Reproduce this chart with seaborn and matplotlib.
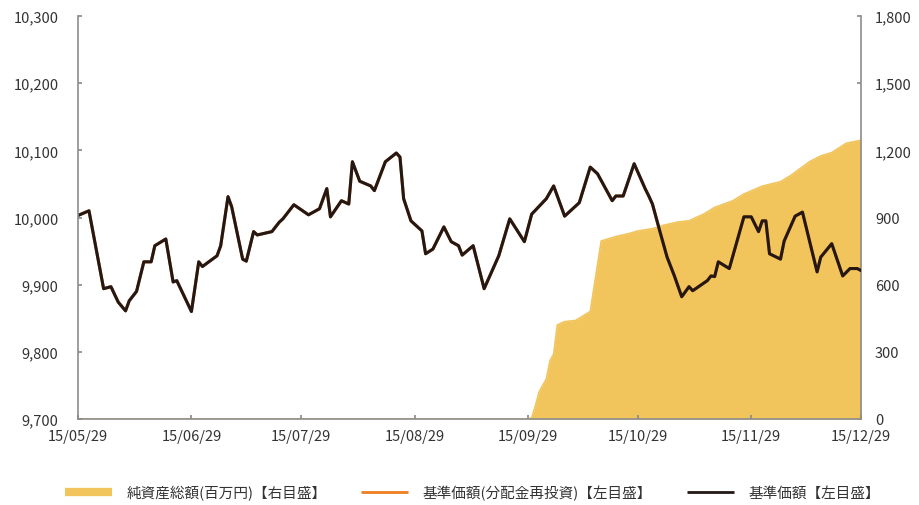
import matplotlib
matplotlib.use("Agg")
import matplotlib.pyplot as plt
from matplotlib.lines import Line2D
import seaborn as sns
import pandas as pd

# ---------------- data ----------------
nav_dates = ["2015-05-29","2015-06-01","2015-06-05","2015-06-07","2015-06-09","2015-06-11","2015-06-12",
             "2015-06-14","2015-06-16","2015-06-18","2015-06-19","2015-06-22","2015-06-24","2015-06-25",
             "2015-06-29","2015-07-01","2015-07-02","2015-07-06","2015-07-07","2015-07-09","2015-07-10",
             "2015-07-13","2015-07-14","2015-07-16","2015-07-17","2015-07-21","2015-07-23","2015-07-24",
             "2015-07-27","2015-07-31","2015-08-03","2015-08-05","2015-08-06","2015-08-09","2015-08-11",
             "2015-08-12","2015-08-14","2015-08-17","2015-08-18","2015-08-21","2015-08-24","2015-08-25",
             "2015-08-26","2015-08-28","2015-08-31","2015-09-01","2015-09-03","2015-09-06","2015-09-08",
             "2015-09-10","2015-09-11","2015-09-14","2015-09-17","2015-09-21","2015-09-24","2015-09-28",
             "2015-09-30","2015-10-04","2015-10-06","2015-10-09","2015-10-13","2015-10-16","2015-10-18",
             "2015-10-22","2015-10-23","2015-10-25","2015-10-28","2015-10-31","2015-11-01","2015-11-02",
             "2015-11-04","2015-11-06","2015-11-08","2015-11-10","2015-11-12","2015-11-13","2015-11-17",
             "2015-11-18","2015-11-19","2015-11-20","2015-11-23","2015-11-27","2015-11-29","2015-12-01",
             "2015-12-02","2015-12-03","2015-12-04","2015-12-07","2015-12-08","2015-12-11","2015-12-13",
             "2015-12-17","2015-12-18","2015-12-21","2015-12-24","2015-12-26","2015-12-28","2015-12-29"]
nav_values = [10003,10010,9894,9897,9874,9861,9876,
              9890,9934,9934,9958,9968,9904,9906,
              9860,9934,9927,9943,9958,10031,10016,
              9938,9935,9979,9974,9979,9993,9998,
              10019,10004,10013,10043,10001,10025,10020,
              10083,10054,10047,10040,10083,10096,10090,
              10028,9995,9980,9946,9953,9986,9964,
              9958,9944,9958,9894,9943,9998,9964,
              10005,10028,10047,10002,10022,10075,10065,
              10025,10032,10032,10080,10043,10032,10020,
              9980,9941,9913,9882,9897,9891,9906,
              9913,9912,9934,9924,10001,10001,9979,
              9995,9995,9946,9938,9965,10002,10008,
              9919,9941,9961,9913,9924,9924,9921]
nav_reinvested = nav_values  # identical series (no distributions)

asset_dates = ["2015-05-29","2015-09-29","2015-09-30","2015-10-01","2015-10-02","2015-10-04","2015-10-05",
               "2015-10-06","2015-10-07","2015-10-09","2015-10-12","2015-10-14","2015-10-16","2015-10-19",
               "2015-10-20","2015-10-23","2015-10-27","2015-10-29","2015-11-02","2015-11-05","2015-11-09",
               "2015-11-12","2015-11-13","2015-11-16","2015-11-19","2015-11-24","2015-11-27","2015-12-02",
               "2015-12-07","2015-12-10","2015-12-15","2015-12-18","2015-12-21","2015-12-25","2015-12-29"]
asset_values = [0,0,5,58,120,179,260,
                290,420,435,440,460,480,795,
                800,815,830,840,850,865,880,
                885,893,915,945,975,1005,1040,
                1060,1090,1150,1175,1190,1232,1245]

left_ticks = [9700, 9800, 9900, 10000, 10100, 10200, 10300]
right_ticks = [0, 300, 600, 900, 1200, 1500, 1800]
x_tick_dates = ["2015-05-29","2015-06-29","2015-07-29","2015-08-29","2015-09-29","2015-10-29","2015-11-29","2015-12-29"]
legend_labels = ["純資産総額(百万円)【右目盛】", "基準価額(分配金再投資)【左目盛】", "基準価額【左目盛】"]

# ---------------- style ----------------
sns.set_theme(style="white")
plt.rcParams['font.family'] = ['Noto Sans CJK JP', 'DejaVu Sans']

nav_df = pd.DataFrame({"date": pd.to_datetime(nav_dates), "nav": nav_values, "nav_re": nav_reinvested})
asset_df = pd.DataFrame({"date": pd.to_datetime(asset_dates), "assets": asset_values})

YELLOW = "#F1C45C"
ORANGE = "#EE7E22"
BLACK = "#231815"
AXIS = "#8C8C8C"
TXT = "#333333"

fig = plt.figure(figsize=(9.19, 5.06), dpi=100)
ax = fig.add_axes([78/919, 1-420/506, (861-78)/919, (420-17)/506])
ax2 = ax.twinx()

# area on right axis
ax2.fill_between(asset_df["date"], 0, asset_df["assets"], color=YELLOW, linewidth=0)
sns.lineplot(data=asset_df, x="date", y="assets", ax=ax2, color=YELLOW, linewidth=1.2, legend=False)

# lines on left axis
sns.lineplot(data=nav_df, x="date", y="nav_re", ax=ax, color=ORANGE, linewidth=2.2, legend=False)
sns.lineplot(data=nav_df, x="date", y="nav", ax=ax, color=BLACK, linewidth=2.2, legend=False)

ax.set_zorder(ax2.get_zorder() + 1)
ax.patch.set_visible(False)

xmin, xmax = pd.Timestamp("2015-05-29"), pd.Timestamp("2015-12-29")
ax.set_xlim(xmin, xmax)
ax.set_ylim(left_ticks[0], left_ticks[-1])
ax2.set_ylim(right_ticks[0], right_ticks[-1])

ax.set_yticks(left_ticks)
ax.set_yticklabels([f"{v:,}" for v in left_ticks])
ax2.set_yticks(right_ticks)
ax2.set_yticklabels([f"{v:,}" for v in right_ticks])
xt = pd.to_datetime(x_tick_dates)
ax.set_xticks(xt)
ax.set_xticklabels([d.strftime("%y/%m/%d") for d in xt])

for a in (ax, ax2):
    a.set_xlabel("")
    a.set_ylabel("")
    a.grid(False)
    a.spines["top"].set_visible(False)
    for s in a.spines.values():
        s.set_color(AXIS)
        s.set_linewidth(1.2)

ax.spines["right"].set_visible(False)
ax2.spines["left"].set_visible(False)
ax2.spines["bottom"].set_visible(False)

ax.tick_params(axis="y", direction="in", length=3, color=AXIS, pad=14, labelsize=10.5, labelcolor=TXT, left=True)
ax.tick_params(axis="x", direction="in", length=3, color=AXIS, pad=7, labelsize=10.5, labelcolor=TXT, bottom=True)
ax2.tick_params(axis="y", direction="in", length=3, color=AXIS, pad=10, labelsize=10.5, labelcolor=TXT, right=True)

handles = [Line2D([0], [0], color=YELLOW, linewidth=6, solid_capstyle="butt"),
           Line2D([0], [0], color=ORANGE, linewidth=2, solid_capstyle="butt"),
           Line2D([0], [0], color=BLACK, linewidth=2, solid_capstyle="butt")]
fig.legend(handles, legend_labels, loc="center", bbox_to_anchor=(0.514, 1-493/506), ncol=3,
           frameon=False, fontsize=10.5, handlelength=3.2, columnspacing=2.4, handletextpad=1.0,
           labelcolor=TXT)

fig.savefig("out.png", dpi=100)
